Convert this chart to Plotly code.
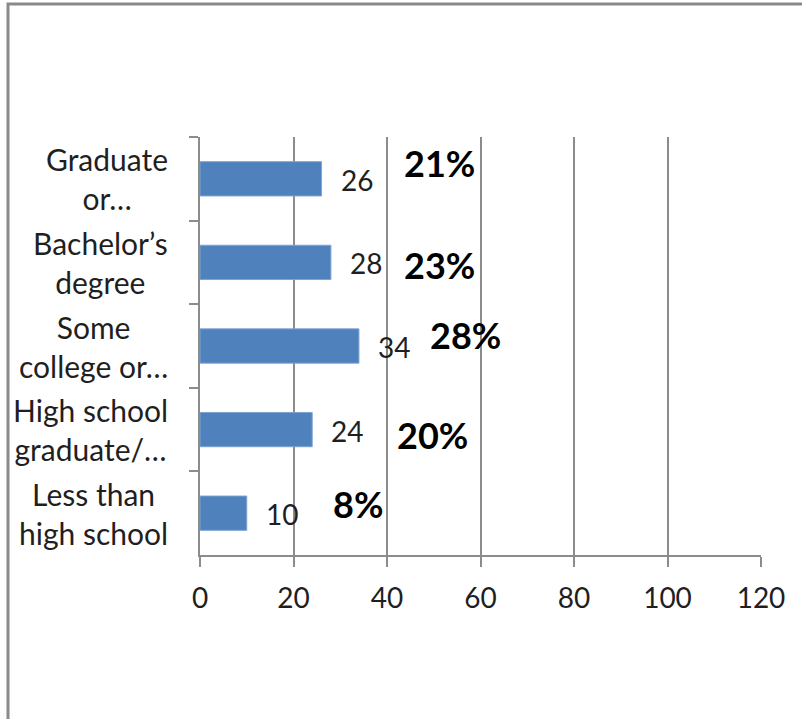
import plotly.graph_objects as go

# Education level (top to bottom) and respondent counts
categories = [
    "Graduate<br>or…",
    "Bachelor’s<br>degree",
    "Some<br>college or…",
    "High school<br>graduate/…",
    "Less than<br>high school",
]
counts = [26, 28, 34, 24, 10]
x_ticks = [0, 20, 40, 60, 80, 100, 120]

total = sum(counts)
shares = [f"{round(c / total * 100)}%" for c in counts]

# placement of the bold share labels (x in data units, vertical shift in px)
share_x = [51.3, 51.3, 56.7, 49.8, 33.8]
share_dy = [16, -3, 11, -5, 9]

FONT = "Lato, Carlito, Calibri, sans-serif"
TEXT = "#1f1f1f"
GRID = "#8c8c8c"

fig = go.Figure(
    go.Bar(
        y=categories,
        x=counts,
        orientation="h",
        width=0.41,
        marker=dict(color="#4f81bd", line=dict(color="#7fa3d0", width=1)),
        hoverinfo="x+y",
    )
)

annotations = []
for cat in categories:
    annotations.append(dict(
        x=0, xref="paper", y=cat, yref="y", text=cat,
        xanchor="right", yanchor="middle", align="center", xshift=-30,
        showarrow=False, font=dict(family=FONT, size=30, color=TEXT),
    ))
for cat, c in zip(categories, counts):
    annotations.append(dict(
        x=c, xref="x", y=cat, yref="y", text=str(c),
        xanchor="left", yanchor="middle", xshift=17, yshift=-1,
        showarrow=False, font=dict(family=FONT, size=28, color=TEXT),
    ))
for cat, s, sx, dy in zip(categories, shares, share_x, share_dy):
    annotations.append(dict(
        x=sx, xref="x", y=cat, yref="y", text=f"<b>{s}</b>",
        xanchor="center", yanchor="middle", yshift=dy,
        showarrow=False, font=dict(family=FONT, size=36, color="#000000"),
    ))

fig.update_layout(
    width=802,
    height=719,
    margin=dict(l=200, r=41, t=137, b=164),
    paper_bgcolor="white",
    plot_bgcolor="white",
    showlegend=False,
    bargap=0.59,
    annotations=annotations,
    shapes=[dict(
        type="rect", xref="paper", yref="paper",
        x0=(8 - 200) / 561, x1=(820 - 200) / 561,
        y0=(555 - 740) / 418, y1=(555 - 4) / 418,
        line=dict(color="#8a8a8a", width=3), fillcolor="rgba(0,0,0,0)",
        layer="above",
    )],
    xaxis=dict(
        range=[0, 120],
        tickvals=x_ticks,
        showgrid=True, gridcolor=GRID, gridwidth=1.5,
        showline=True, linecolor=GRID, linewidth=1.5,
        ticks="outside", ticklen=10, tickcolor=GRID, tickwidth=1.5,
        ticklabelstandoff=8,
        tickfont=dict(family=FONT, size=28, color=TEXT),
        zeroline=False,
        fixedrange=True,
    ),
    yaxis=dict(
        autorange="reversed",
        showgrid=False,
        showline=True, linecolor=GRID, linewidth=1.5,
        ticks="outside", ticklen=9, tickcolor=GRID, tickwidth=1.5,
        tickson="boundaries",
        showticklabels=False,
        fixedrange=True,
    ),
)

fig.write_html("out.html")
